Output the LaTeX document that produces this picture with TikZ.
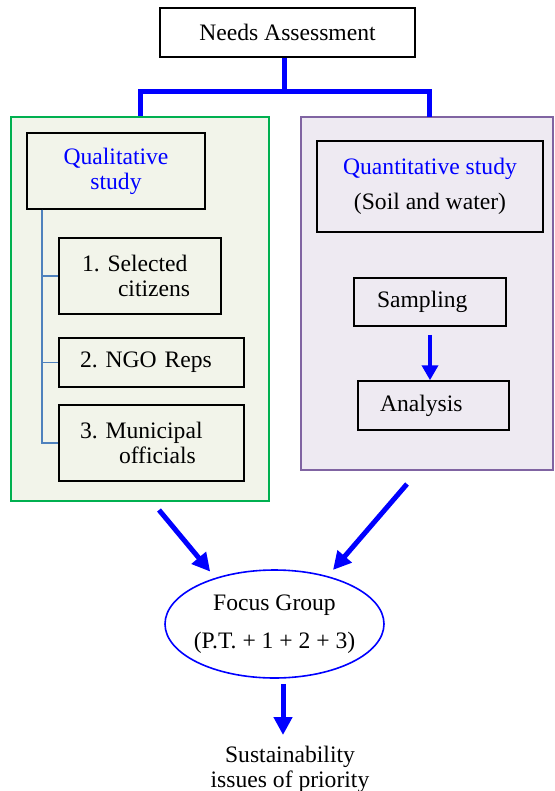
\documentclass[tikz,border=0pt]{standalone}
\usepackage{fontspec}
\setmainfont{Liberation Serif}
\usepackage{tikz}
\usetikzlibrary{shapes.geometric, arrows.meta, positioning}
\usepackage{xcolor}
\frenchspacing

\definecolor{qualgreen}{HTML}{00B050}
\definecolor{qualfill}{HTML}{F2F4EA}
\definecolor{quantpurple}{HTML}{8064A2}
\definecolor{quantfill}{HTML}{EEEAF2}
\definecolor{treeblue}{HTML}{4F81BD}

\tikzset{
  box/.style={draw, rectangle, line width=0.75pt},
  area/.style={draw, rectangle, line width=0.75pt},
  bracket/.style={draw=blue, line width=2.5pt},
  flow/.style={draw=blue, line width=2.5pt, -{Triangle[width=9pt,length=9pt]}},
  tree/.style={draw=treeblue, line width=0.8pt},
}

\begin{document}
\begin{tikzpicture}[x=0.5pt, y=-0.5pt, font=\fontsize{11.8}{12.5}\selectfont]
\useasboundingbox (0,0) rectangle (554,791);

% top
\node[box, minimum width=127.5pt, minimum height=24.5pt] (need) at (287.5,32.5) {Needs Assessment};

% the two study areas
\node[area, draw=qualgreen, fill=qualfill, minimum width=129pt, minimum height=192pt] (qualarea) at (140,309) {};
\node[area, draw=quantpurple, fill=quantfill, minimum width=126pt, minimum height=176.5pt] (quantarea) at (427,293.5) {};

\coordinate (split) at (284,92);
\coordinate (quantdrop) at (429,117);
\draw[bracket] (need.south -| split) -- (split);
\draw[bracket] (qualarea.north) |- (split) -| (quantdrop);

% qualitative side
\node[box, text=blue, align=center, minimum width=89pt, minimum height=38pt] (qual) at (116,171) {Qualitative\\study};
\node[box, align=left, text width=58pt, inner xsep=11.5pt, minimum height=38pt] (sel) at (140,276) {1. Selected\\\hspace*{18pt}citizens};
\node[box, align=left, text width=71.5pt, inner xsep=10.5pt, minimum height=24.5pt] (ngo) at (151.5,362.5) {2. NGO Reps};
\node[box, align=left, text width=71.5pt, inner xsep=10.5pt, minimum height=38pt] (mun) at (151.5,443) {3. Municipal\\\hspace*{19.5pt}officials};

\coordinate (treetop) at ([xshift=8pt]qual.south west);
\draw[tree] (treetop) |- (sel.west);
\draw[tree] (treetop) |- (ngo.west);
\draw[tree] (treetop) |- (mun.west);

% quantitative side
\node[box, align=center, minimum width=113pt, minimum height=45.5pt] (quant) at (430,186.5) {\textcolor{blue}{Quantitative study}\\[5pt](Soil and water)};
\node[box, align=left, text width=53pt, inner xsep=11.5pt, minimum height=24pt] (samp) at (430,302) {Sampling};
\node[box, align=left, text width=53.5pt, inner xsep=11pt, minimum height=24.5pt] (ana) at (433.5,405.5) {Analysis};
\draw[flow, line width=1.8pt, -{Triangle[width=8pt,length=7.5pt]}, shorten <=4pt] (samp.south) -- (samp.south |- ana.north);

% focus group
\node[ellipse, draw=blue, line width=0.8pt, fill=white, minimum width=109.5pt, minimum height=54pt] (focus) at (274.5,624) {};
\node[align=center] (focustext) at (focus.center) {Focus Group\\[6.5pt](P.T. + 1 + 2 + 3)};

\coordinate (qualout) at (159,510);
\coordinate (quantout) at (407,484);
\draw[flow, shorten >=4pt] (qualout) -- (focus.142);
\draw[flow, shorten >=4pt] (quantout) -- (focus.42);

\node[align=center, anchor=north] (sust) at (290,739) {Sustainability\\issues of priority};
\draw[flow, shorten <=2.5pt, shorten >=2pt] ([xshift=4.25pt]focus.south) -- ([xshift=-3.5pt]sust.north);
\end{tikzpicture}
\end{document}
